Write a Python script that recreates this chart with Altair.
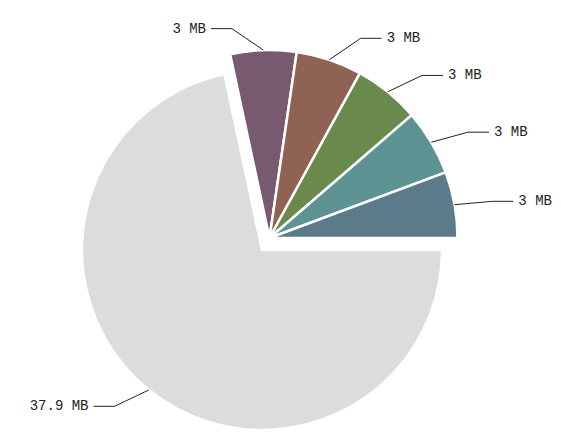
import altair as alt
import pandas as pd

# ---- data ----
labels = ["37.9 MB", "3 MB", "3 MB", "3 MB", "3 MB", "3 MB"]
values = [37.9, 3.0, 3.0, 3.0, 3.0, 3.0]
colors = ["#dcdbdd", "#775a6f", "#8f6354", "#6a894c", "#5e9393", "#5b7b8a"]
exploded = [0, 1, 1, 1, 1, 1]

# ---- layout constants (pixels inside the chart) ----
W, H = 545, 426
CX, CY = 254, 242       # centre of the pie
R_MAIN, R_SEL = 180, 188
DX, DY = 7.5, -12       # offset of the pulled-out slices
L1, L2 = 38, 21         # leader line lengths
MAX_TILT = 0.6          # max tilt (radians) of the first leader segment

df = pd.DataFrame({
    "idx": list(range(len(values))),
    "label": labels,
    "value": values,
    "color": colors,
    "exploded": exploded,
})

base = alt.Chart().properties(width=W, height=H)

arcs = base.mark_arc(stroke="white", strokeWidth=2.5).encode(
    theta=alt.Theta("a0:Q", scale=None, stack=None),
    theta2="a1:Q",
    x=alt.X("cx:Q", scale=None, axis=None),
    y=alt.Y("cy:Q", scale=None, axis=None),
    radius=alt.Radius("r:Q", scale=None),
    color=alt.Color("color:N", scale=None, legend=None),
)

seg1 = base.mark_rule(color="#222", strokeWidth=1).encode(
    x=alt.X("ex:Q", scale=None, axis=None),
    y=alt.Y("ey:Q", scale=None, axis=None),
    x2="bx:Q",
    y2="by:Q",
)

seg2 = base.mark_rule(color="#222", strokeWidth=1).encode(
    x=alt.X("bx:Q", scale=None, axis=None),
    y=alt.Y("by:Q", scale=None, axis=None),
    x2="hx:Q",
    y2="by:Q",
)

text_right = base.mark_text(
    align="left", baseline="middle", font="Liberation Mono", fontSize=14, color="#222"
).encode(
    x=alt.X("tx:Q", scale=None, axis=None),
    y=alt.Y("by:Q", scale=None, axis=None),
    text="label:N",
).transform_filter("datum.side > 0")

text_left = base.mark_text(
    align="right", baseline="middle", font="Liberation Mono", fontSize=14, color="#222"
).encode(
    x=alt.X("tx:Q", scale=None, axis=None),
    y=alt.Y("by:Q", scale=None, axis=None),
    text="label:N",
).transform_filter("datum.side < 0")

chart = alt.layer(arcs, seg1, seg2, text_right, text_left, data=df).transform_window(
    cum="sum(value)", sort=[alt.SortField("idx", order="ascending")], frame=[None, 0]
).transform_joinaggregate(
    total="sum(value)"
).transform_calculate(
    a0="PI/2 + 2*PI*(datum.cum - datum.value)/datum.total",
    a1="PI/2 + 2*PI*datum.cum/datum.total",
).transform_calculate(
    mid="(datum.a0 + datum.a1)/2",
    cx=f"{CX} + datum.exploded*{DX}",
    cy=f"{CY} + datum.exploded*({DY})",
    r=f"datum.exploded ? {R_SEL} : {R_MAIN}",
).transform_calculate(
    side="sin(datum.mid) >= 0 ? 1 : -1",
    ex="datum.cx + datum.r*sin(datum.mid)",
    ey="datum.cy - datum.r*cos(datum.mid)",
    phi="atan2(cos(datum.mid), abs(sin(datum.mid)))",
).transform_calculate(
    tilt=f"clamp(datum.phi/2, -{MAX_TILT}, {MAX_TILT})",
).transform_calculate(
    bx=f"datum.ex + datum.side*{L1}*cos(datum.tilt)",
    by=f"datum.ey - {L1}*sin(datum.tilt)",
).transform_calculate(
    hx=f"datum.bx + datum.side*{L2}",
).transform_calculate(
    tx="datum.hx + datum.side*5",
).properties(
    width=W, height=H, padding=0
).configure_view(stroke=None)

chart.save("out.html", embed_options={"renderer": "svg", "actions": False})
